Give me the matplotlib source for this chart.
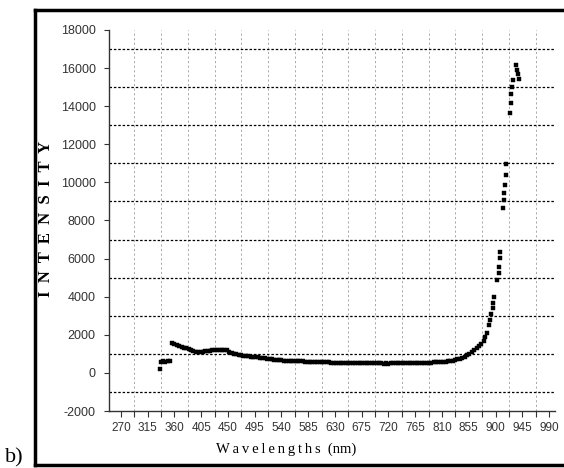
import matplotlib
matplotlib.use("Agg")
import matplotlib.pyplot as plt
from matplotlib.ticker import FixedLocator
from matplotlib.lines import Line2D

plt.rcParams['axes.unicode_minus'] = False

# spectrum (nm, intensity)
wavelength = [335, 337, 341, 345, 349, 352,
              356, 360, 364, 368, 372, 376, 380, 384, 388, 392, 396, 400, 404, 408,
              412, 416, 420, 424, 428, 432, 436, 440, 444, 448, 452, 456, 460, 464,
              468, 472, 476, 480, 484, 488, 492, 496, 500, 504, 508, 512, 516, 520,
              524, 528, 532, 536, 540, 544, 548, 552, 556, 560, 564, 568, 572, 576,
              580, 584, 588, 592, 596, 600, 604, 608, 612, 616, 620, 624, 628, 632,
              636, 640, 644, 648, 652, 656, 660, 664, 668, 672, 676, 680, 684, 688,
              692, 696, 700, 704, 708, 712, 716, 720, 724, 728, 732, 736, 740, 744,
              748, 752, 756, 760, 764, 768, 772, 776, 780, 784, 788, 792, 796, 800,
              804, 808, 812, 816, 820, 824, 828, 832, 836, 840, 844, 848, 852, 856,
              860, 864, 868, 872, 876, 880, 883, 886, 889, 891, 893, 895, 896.5, 898,
              903, 905, 906, 907, 908, 913, 914, 915, 916.5, 917, 918,
              924.5, 925.7, 926.8, 928, 929, 935, 936, 938, 940]
intensity = [180, 550, 600, 590, 620, 650,
             1580, 1520, 1460, 1410, 1370, 1330, 1290, 1240, 1200, 1160, 1120, 1110, 1100, 1110,
             1130, 1150, 1170, 1180, 1200, 1210, 1200, 1190, 1220, 1180, 1120, 1060, 1010, 980,
             950, 930, 910, 890, 880, 860, 850, 830, 820, 800, 780, 760, 740, 720,
             710, 690, 680, 670, 660, 650, 640, 640, 630, 625, 620, 610, 600, 600,
             590, 585, 580, 575, 570, 565, 560, 560, 555, 550, 550, 545, 540, 540,
             535, 530, 530, 525, 525, 520, 520, 515, 515, 510, 510, 505, 505, 500,
             500, 495, 495, 500, 495, 490, 495, 490, 495, 500, 495, 500, 500, 505,
             510, 510, 515, 515, 520, 520, 525, 530, 530, 535, 540, 545, 550, 555,
             560, 570, 580, 590, 605, 620, 645, 675, 710, 750, 800, 860, 930, 1010,
             1100, 1190, 1290, 1400, 1520, 1700, 1880, 2100, 2500, 2800, 3100, 3400, 3650, 4000,
             4870, 5220, 5570, 6010, 6360, 8640, 9070, 9420, 9860, 10380, 10960,
             13620, 14150, 14640, 15020, 15370, 16150, 15900, 15700, 15450]

x_labels = [270, 315, 360, 405, 450, 495, 540, 585, 630, 675, 720, 765, 810, 855, 900, 945, 990]
x_minor = [292.5, 337.5, 382.5, 427.5, 472.5, 517.5, 562.5, 607.5, 652.5, 697.5, 742.5,
           787.5, 832.5, 877.5, 922.5, 967.5]
y_labels = [-2000, 0, 2000, 4000, 6000, 8000, 10000, 12000, 14000, 16000, 18000]
y_grid = [-1000, 1000, 3000, 5000, 7000, 9000, 11000, 13000, 15000, 17000]

W, H = 564, 468
fig = plt.figure(figsize=(W / 100, H / 100), dpi=100)
ax = fig.add_axes([109 / W, 1 - 411 / H, (555 - 109) / W, (411 - 30) / H])

ax.plot(wavelength, intensity, 's', color='black', ms=2.7, mec='black', mew=0.3)

ax.set_xlim(250, 1000)
ax.set_ylim(-2000, 18000)
ax.xaxis.set_major_locator(FixedLocator(x_labels))
ax.xaxis.set_minor_locator(FixedLocator(x_minor))
ax.yaxis.set_major_locator(FixedLocator(y_labels))
ax.yaxis.set_minor_locator(FixedLocator(y_grid))

for s in ['top', 'right']:
    ax.spines[s].set_visible(False)
for s in ['left', 'bottom']:
    ax.spines[s].set_color('#333333')
    ax.spines[s].set_linewidth(1.0)

ax.tick_params(axis='x', which='both', direction='out', length=4, width=0.8,
               color='#333333', pad=4, labelsize=8.5, labelcolor='#333333')
ax.tick_params(axis='y', which='major', direction='out', length=3.5, width=0.8,
               color='#333333', pad=6, labelsize=9, labelcolor='#333333')
ax.tick_params(axis='y', which='minor', length=0)
for lab in ax.get_xticklabels():
    lab.set_family(['Liberation Sans Narrow', 'Liberation Sans', 'DejaVu Sans'])
for lab in ax.get_yticklabels():
    lab.set_family(['Liberation Sans', 'DejaVu Sans'])

ax.yaxis.grid(True, which='minor', color='black', linestyle=(0, (2, 1.5)), linewidth=0.9)
ax.xaxis.grid(True, which='minor', color='#999999', linestyle=(0, (2.5, 3)), linewidth=0.6)
ax.set_axisbelow(True)

fig.text(46 / W, 1 - 219 / H, 'I  N  T  E  N  S  I  T  Y', rotation=90, ha='center', va='center',
         family='Liberation Serif', fontweight='bold', fontsize=12)
fig.text(286 / W, 1 - 449 / H, 'W\u2009a\u2009v\u2009e\u2009l\u2009e\u2009n\u2009g\u2009t\u2009h\u2009s  (nm)',
         ha='center', va='center', family=['Liberation Serif', 'DejaVu Serif'], fontsize=10.5)
fig.text(5 / W, 1 - 458 / H, 'b)', ha='left', va='center', family='Liberation Serif', fontsize=16)

# frame around the panel (right side runs off the picture)
fr = dict(color='black', linewidth=2.5, transform=fig.transFigure, solid_capstyle='projecting')
fig.add_artist(Line2D([35 / W, 1.02], [1 - 10 / H, 1 - 10 / H], **fr))
fig.add_artist(Line2D([35 / W, 35 / W], [1 - 10 / H, 1 - 465 / H], **fr))
fig.add_artist(Line2D([35 / W, 1.02], [1 - 465 / H, 1 - 465 / H], **fr))

fig.savefig('out.png', dpi=100)
